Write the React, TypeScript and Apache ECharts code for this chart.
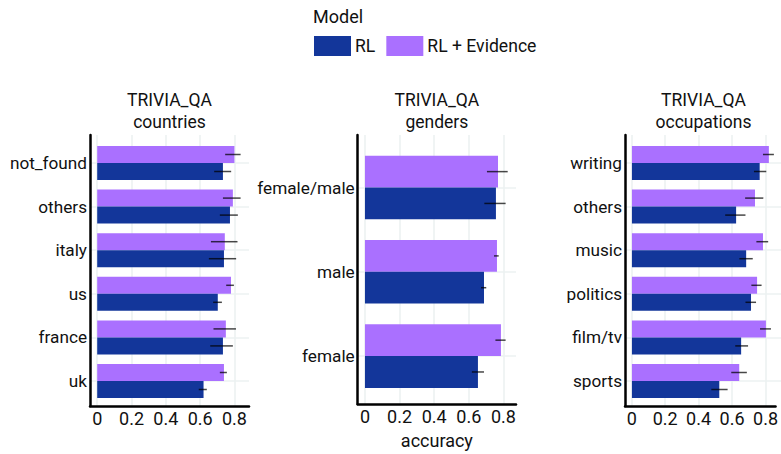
import React, { useEffect, useRef } from "react";
import * as echarts from "echarts";

// ---- data ----
const countries = ["not_found", "others", "italy", "us", "france", "uk"];
const countriesRL = [0.733, 0.774, 0.739, 0.703, 0.733, 0.62];
const countriesEv = [0.8, 0.791, 0.744, 0.78, 0.75, 0.739];
const countriesRLLo = [0.682, 0.715, 0.651, 0.676, 0.659, 0.592];
const countriesRLHi = [0.781, 0.82, 0.81, 0.727, 0.791, 0.639];
const countriesEvLo = [0.746, 0.733, 0.663, 0.752, 0.678, 0.715];
const countriesEvHi = [0.836, 0.836, 0.818, 0.797, 0.809, 0.756];

const genders = ["female/male", "male", "female"];
const gendersRL = [0.757, 0.688, 0.653];
const gendersEv = [0.769, 0.763, 0.786];
const gendersRLLo = [0.69, 0.671, 0.618];
const gendersRLHi = [0.813, 0.701, 0.688];
const gendersEvLo = [0.705, 0.746, 0.754];
const gendersEvHi = [0.825, 0.773, 0.813];

const occupations = ["writing", "others", "music", "politics", "film/tv", "sports"];
const occupationsRL = [0.737, 0.601, 0.659, 0.687, 0.63, 0.504];
const occupationsEv = [0.79, 0.71, 0.756, 0.722, 0.773, 0.619];
const occupationsRLLo = [0.704, 0.538, 0.62, 0.655, 0.596, 0.458];
const occupationsRLHi = [0.775, 0.655, 0.697, 0.716, 0.67, 0.552];
const occupationsEvLo = [0.756, 0.653, 0.718, 0.689, 0.739, 0.573];
const occupationsEvHi = [0.819, 0.758, 0.786, 0.748, 0.802, 0.663];

const panelTitles = ["TRIVIA_QA\ncountries", "TRIVIA_QA\ngenders", "TRIVIA_QA\noccupations"];
const modelNames = ["RL", "RL + Evidence"];
const xLabelName = "accuracy";

const COLOR_RL = "#13369A";
const COLOR_EV = "#AA70FF";
const FONT = "Roboto";
const TEXT = "#111111";

type Panel = {
  cats: string[];
  rl: number[];
  ev: number[];
  rlLo: number[];
  rlHi: number[];
  evLo: number[];
  evHi: number[];
  left: number;
  width: number;
  xmin: number;
  xmax: number;
  dataTop: number;
  dataHeight: number;
  gap: number; // barCategoryGap fraction
};

const panels: Panel[] = [
  {
    cats: countries, rl: countriesRL, ev: countriesEv,
    rlLo: countriesRLLo, rlHi: countriesRLHi, evLo: countriesEvLo, evHi: countriesEvHi,
    left: 90, width: 159, xmin: -0.042, xmax: 0.885, dataTop: 141.2, dataHeight: 261.6, gap: 0.22,
  },
  {
    cats: genders, rl: gendersRL, ev: gendersEv,
    rlLo: gendersRLLo, rlHi: gendersRLHi, evLo: gendersEvLo, evHi: gendersEvHi,
    left: 357.7, width: 158.3, xmin: -0.042, xmax: 0.873, dataTop: 145.4, dataHeight: 252.8, gap: 0.245,
  },
  {
    cats: occupations, rl: occupationsRL, ev: occupationsEv,
    rlLo: occupationsRLLo, rlHi: occupationsRLHi, evLo: occupationsEvLo, evHi: occupationsEvHi,
    left: 625, width: 157, xmin: -0.04, xmax: 0.86, dataTop: 141.2, dataHeight: 261.6, gap: 0.22,
  },
];

const FRAME_TOP = 135;
const FRAME_HEIGHT = 271;

function buildOption() {
  const grid: any[] = [];
  const xAxis: any[] = [];
  const yAxis: any[] = [];
  const series: any[] = [];
  const graphic: any[] = [];

  panels.forEach((p, i) => {
    const frameIdx = i * 2;
    const dataIdx = i * 2 + 1;
    grid.push({ left: p.left, width: p.width, top: FRAME_TOP, height: FRAME_HEIGHT });
    grid.push({ left: p.left, width: p.width, top: p.dataTop, height: p.dataHeight });

    // frame axes
    xAxis.push({
      type: "value",
      gridIndex: frameIdx,
      min: p.xmin,
      max: p.xmax,
      axisLine: { show: true, lineStyle: { color: "#000", width: 2.5 } },
      axisTick: { show: false },
      axisLabel: {
        show: true,
        margin: 3,
        fontFamily: FONT,
        fontSize: 18,
        color: TEXT,
        showMinLabel: false,
        showMaxLabel: false,
        formatter: (v: number) => {
          const r = Math.round(v * 10) / 10;
          if (Math.abs(v - r) > 1e-6) return "";
          return r === 0 ? "0" : String(r);
        },
      },
      splitLine: {
        show: true,
        showMinLine: false,
        showMaxLine: false,
        lineStyle: { color: "#EDF2F2", width: 1.6 },
      },
      name: i === 1 ? xLabelName : "",
      nameLocation: "middle",
      nameGap: 27,
      nameTextStyle: { fontFamily: FONT, fontSize: 18, color: TEXT },
    });
    yAxis.push({
      type: "value",
      gridIndex: frameIdx,
      min: 0,
      max: 1,
      axisLine: { show: true, onZero: false, lineStyle: { color: "#000", width: 2.5 } },
      axisTick: { show: false },
      axisLabel: { show: false },
      splitLine: { show: false },
    });

    // data axes
    xAxis.push({
      type: "value",
      gridIndex: dataIdx,
      min: p.xmin,
      max: p.xmax,
      show: false,
      splitLine: { show: false },
    });
    yAxis.push({
      type: "category",
      gridIndex: dataIdx,
      data: p.cats,
      inverse: true,
      axisLine: { show: false },
      axisTick: { show: false },
      axisLabel: { margin: 3, fontFamily: FONT, fontSize: 17.2, color: TEXT },
      splitLine: {
        show: true,
        alignWithLabel: true,
        lineStyle: { color: "#EDF2F2", width: 1.6 },
      },
    });

    const gapPct = Math.round(p.gap * 1000) / 10 + "%";
    series.push({
      type: "bar",
      name: modelNames[1],
      xAxisIndex: dataIdx,
      yAxisIndex: dataIdx,
      data: p.ev,
      itemStyle: { color: COLOR_EV },
      barGap: "0%",
      barCategoryGap: gapPct,
      z: 2,
    });
    series.push({
      type: "bar",
      name: modelNames[0],
      xAxisIndex: dataIdx,
      yAxisIndex: dataIdx,
      data: p.rl,
      itemStyle: { color: COLOR_RL },
      barGap: "0%",
      barCategoryGap: gapPct,
      z: 2,
    });

    const mkErr = (lo: number[], hi: number[], sign: number) => ({
      type: "custom",
      xAxisIndex: dataIdx,
      yAxisIndex: dataIdx,
      z: 5,
      silent: true,
      encode: { x: [1, 2], y: 0 },
      data: p.cats.map((c, k) => [k, lo[k], hi[k]]),
      renderItem: (params: any, api: any) => {
        const cat = api.value(0);
        const a = api.coord([api.value(1), cat]);
        const b = api.coord([api.value(2), cat]);
        const band = api.size([0, 1])[1];
        const off = (sign * band * (1 - p.gap)) / 4;
        return {
          type: "line",
          shape: { x1: a[0], y1: a[1] + off, x2: b[0], y2: b[1] + off },
          style: { stroke: "rgba(0,0,0,0.72)", lineWidth: 1.5 },
        };
      },
    });
    series.push(mkErr(p.evLo, p.evHi, -1));
    series.push(mkErr(p.rlLo, p.rlHi, 1));

    graphic.push({
      type: "text",
      x: p.left + p.width / 2,
      y: 89,
      style: {
        text: panelTitles[i],
        textAlign: "center",
        textVerticalAlign: "top",
        fontFamily: FONT,
        fontSize: 17.5,
        lineHeight: 22,
        fill: TEXT,
      },
    });
  });

  graphic.push({
    type: "text",
    x: 313,
    y: 16,
    style: {
      text: "Model",
      textAlign: "left",
      textVerticalAlign: "middle",
      fontFamily: FONT,
      fontSize: 18,
      fill: TEXT,
    },
  });

  return {
    animation: false,
    backgroundColor: "#ffffff",
    grid,
    xAxis,
    yAxis,
    series,
    graphic,
    legend: {
      data: [
        { name: modelNames[0], itemStyle: { color: COLOR_RL } },
        { name: modelNames[1], itemStyle: { color: COLOR_EV } },
      ],
      left: 314,
      top: 36,
      orient: "horizontal",
      icon: "rect",
      itemWidth: 37,
      itemHeight: 20,
      itemGap: 11,
      padding: 0,
      selectedMode: false,
      textStyle: { fontFamily: FONT, fontSize: 17.6, color: TEXT, padding: [0, 0, 0, -1] },
    },
  };
}

export default function App() {
  const ref = useRef<HTMLDivElement>(null);
  useEffect(() => {
    if (!ref.current) return;
    const chart = echarts.init(ref.current, undefined, { renderer: "svg" });
    chart.setOption(buildOption() as any);
    return () => chart.dispose();
  }, []);
  return (
    <div
      ref={ref}
      style={{ position: "fixed", left: 0, top: 0, width: 781, height: 454, background: "#fff" }}
    />
  );
}
